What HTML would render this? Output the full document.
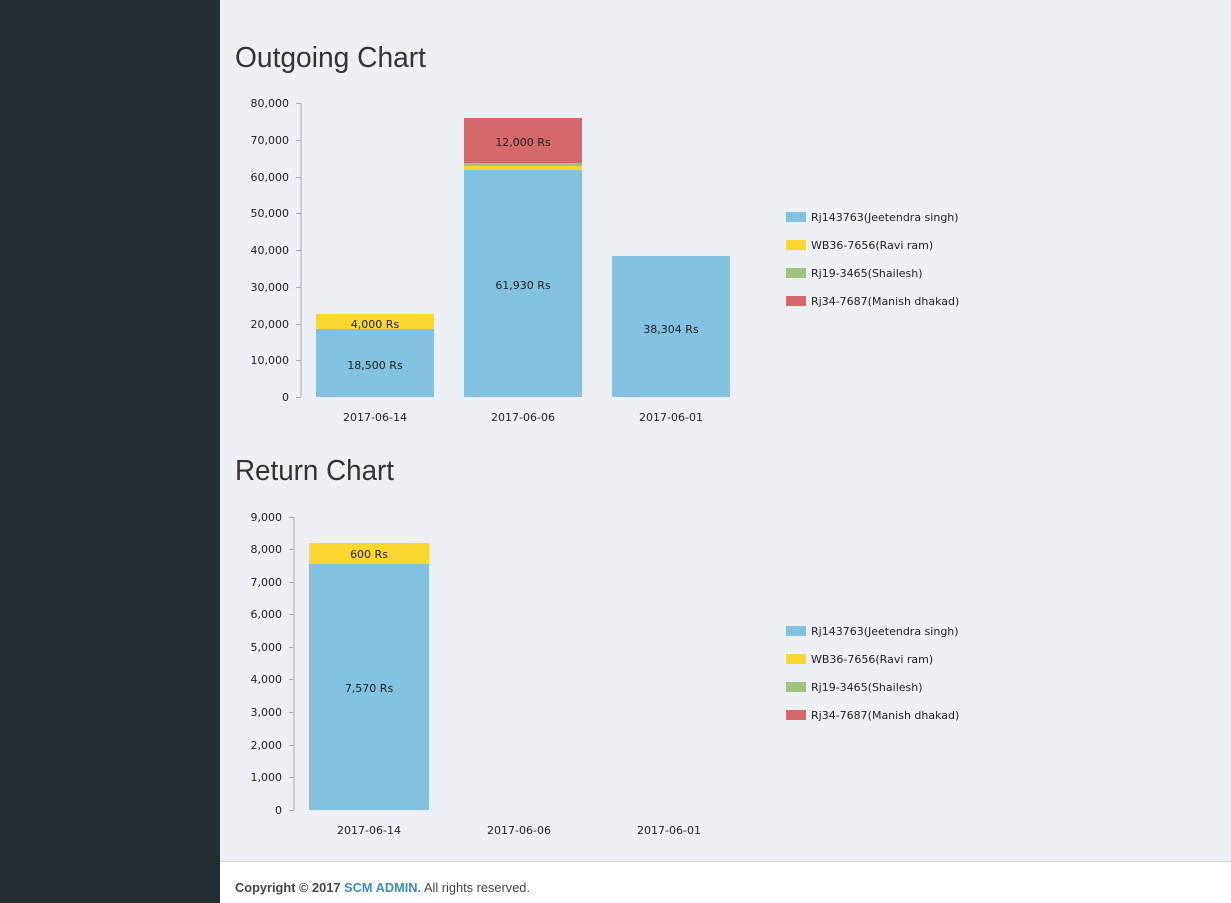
<!DOCTYPE html>
<html><head><meta charset="utf-8"><style>
html,body{margin:0;padding:0;width:1231px;height:903px;overflow:hidden;background:#ecf0f5}
svg{display:block}
.t{font-family:"DejaVu Sans","Liberation Sans",sans-serif;font-size:11px;fill:#222}
.h{font-family:"Liberation Sans",sans-serif;font-size:29px;fill:#333}
</style></head><body>
<svg width="1231" height="903" xmlns="http://www.w3.org/2000/svg">
<rect x="0" y="0" width="1231" height="903" fill="#ecf0f5"/>
<rect x="0" y="0" width="220" height="903" fill="#222d32"/>
<rect x="220" y="861" width="1011" height="42" fill="#fff"/>
<rect x="220" y="861" width="1011" height="1" fill="#d2d6de"/>
<text x="235" y="892" font-family="Liberation Sans,sans-serif" font-size="13" fill="#444" textLength="295" lengthAdjust="spacingAndGlyphs"><tspan font-weight="bold">Copyright © 2017 </tspan><tspan font-weight="bold" fill="#3c8dbc">SCM ADMIN.</tspan> All rights reserved.</text>

<text class="h" x="235" y="67" textLength="191" lengthAdjust="spacingAndGlyphs">Outgoing Chart</text>
<text class="h" x="235" y="480" textLength="159" lengthAdjust="spacingAndGlyphs">Return Chart</text>

<!-- Outgoing chart -->
<g>
<line x1="301" y1="103" x2="301" y2="397" stroke="#aaa"/>
<g stroke="#aaa">
<line x1="296" y1="103.5" x2="301" y2="103.5"/><line x1="296" y1="140.5" x2="301" y2="140.5"/>
<line x1="296" y1="177.5" x2="301" y2="177.5"/><line x1="296" y1="213.5" x2="301" y2="213.5"/>
<line x1="296" y1="250.5" x2="301" y2="250.5"/><line x1="296" y1="287.5" x2="301" y2="287.5"/>
<line x1="296" y1="324.5" x2="301" y2="324.5"/><line x1="296" y1="360.5" x2="301" y2="360.5"/>
<line x1="296" y1="397.5" x2="301" y2="397.5"/>
</g>
<g class="t" text-anchor="end">
<text x="289" y="107">80,000</text><text x="289" y="144">70,000</text><text x="289" y="181">60,000</text>
<text x="289" y="217">50,000</text><text x="289" y="254">40,000</text><text x="289" y="291">30,000</text>
<text x="289" y="328">20,000</text><text x="289" y="364">10,000</text><text x="289" y="401">0</text>
</g>
<rect x="316" y="329" width="118" height="68" fill="#82c2e0"/>
<rect x="316" y="314" width="118" height="15" fill="#f9d630"/>
<rect x="464" y="170" width="118" height="227" fill="#82c2e0"/>
<rect x="464" y="166" width="118" height="4" fill="#f9d630"/>
<rect x="464" y="163" width="118" height="3" fill="#9dc47a"/>
<rect x="464" y="118" width="118" height="45" fill="#d4686a"/>
<rect x="612" y="256" width="118" height="141" fill="#82c2e0"/>
<g class="t" text-anchor="middle">
<text x="375" y="369">18,500 Rs</text><text x="375" y="328">4,000 Rs</text>
<text x="523" y="289">61,930 Rs</text><text x="523" y="146">12,000 Rs</text>
<text x="671" y="333">38,304 Rs</text>
<text x="375" y="421">2017-06-14</text><text x="523" y="421">2017-06-06</text><text x="671" y="421">2017-06-01</text>
</g>
<rect x="786" y="212" width="20" height="10" fill="#82c2e0"/>
<rect x="786" y="240" width="20" height="10" fill="#f9d630"/>
<rect x="786" y="268" width="20" height="10" fill="#9dc47a"/>
<rect x="786" y="296" width="20" height="10" fill="#d4686a"/>
<g class="t">
<text x="811" y="221">Rj143763(Jeetendra singh)</text>
<text x="811" y="249">WB36-7656(Ravi ram)</text>
<text x="811" y="277">Rj19-3465(Shailesh)</text>
<text x="811" y="305">Rj34-7687(Manish dhakad)</text>
</g>
</g>

<!-- Return chart -->
<g>
<line x1="294" y1="517" x2="294" y2="810" stroke="#aaa"/>
<g stroke="#aaa">
<line x1="289" y1="517.5" x2="294" y2="517.5"/><line x1="289" y1="549.5" x2="294" y2="549.5"/>
<line x1="289" y1="582.5" x2="294" y2="582.5"/><line x1="289" y1="614.5" x2="294" y2="614.5"/>
<line x1="289" y1="647.5" x2="294" y2="647.5"/><line x1="289" y1="679.5" x2="294" y2="679.5"/>
<line x1="289" y1="712.5" x2="294" y2="712.5"/><line x1="289" y1="745.5" x2="294" y2="745.5"/>
<line x1="289" y1="777.5" x2="294" y2="777.5"/><line x1="289" y1="810.5" x2="294" y2="810.5"/>
</g>
<g class="t" text-anchor="end">
<text x="282" y="521">9,000</text><text x="282" y="553">8,000</text><text x="282" y="586">7,000</text>
<text x="282" y="618">6,000</text><text x="282" y="651">5,000</text><text x="282" y="683">4,000</text>
<text x="282" y="716">3,000</text><text x="282" y="749">2,000</text><text x="282" y="781">1,000</text>
<text x="282" y="814">0</text>
</g>
<rect x="309" y="564" width="120" height="246" fill="#82c2e0"/>
<rect x="309" y="543" width="120" height="21" fill="#f9d630"/>
<g class="t" text-anchor="middle">
<text x="369" y="692">7,570 Rs</text><text x="369" y="558">600 Rs</text>
<text x="369" y="834">2017-06-14</text><text x="519" y="834">2017-06-06</text><text x="669" y="834">2017-06-01</text>
</g>
<rect x="786" y="626" width="20" height="10" fill="#82c2e0"/>
<rect x="786" y="654" width="20" height="10" fill="#f9d630"/>
<rect x="786" y="682" width="20" height="10" fill="#9dc47a"/>
<rect x="786" y="710" width="20" height="10" fill="#d4686a"/>
<g class="t">
<text x="811" y="635">Rj143763(Jeetendra singh)</text>
<text x="811" y="663">WB36-7656(Ravi ram)</text>
<text x="811" y="691">Rj19-3465(Shailesh)</text>
<text x="811" y="719">Rj34-7687(Manish dhakad)</text>
</g>
</g>
</svg>
</body></html>
